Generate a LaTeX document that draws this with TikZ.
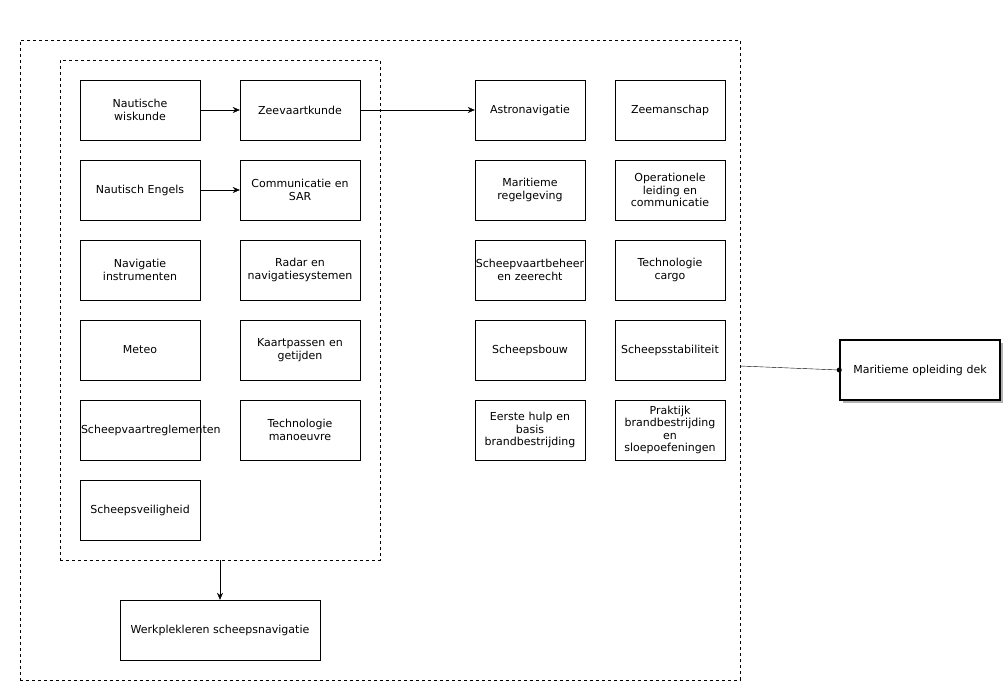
\documentclass[tikz,border=0pt]{standalone}
\usepackage{fontspec}
\setmainfont{DejaVu Sans}
\usetikzlibrary{arrows.meta}
\begin{document}
\begin{tikzpicture}[x=1pt,y=-1pt,
  box/.style={draw,minimum width=120pt,minimum height=60pt,align=center,inner sep=0pt,font=\fontsize{11}{12.5}\selectfont,text width=118pt},
  sbox/.style={box,minimum width=100pt,text width=110pt},
  arr/.style={-{Stealth[length=7pt,width=6pt]}},
  grp/.style={draw,dashed}]
\useasboundingbox (0,0) rectangle (1008,685);
\node[grp,minimum width=720pt,minimum height=640pt,inner sep=0pt] (outer) at (380,360) {};
\node[grp,minimum width=320pt,minimum height=500pt,inner sep=0pt] (inner) at (220,310) {};
\node[box] (a1) at (140,110) {Nautische\\wiskunde};
\node[box] (a2) at (140,190) {Nautisch Engels};
\node[box] (a3) at (140,270) {Navigatie\\instrumenten};
\node[box] (a4) at (140,350) {Meteo};
\node[box] (a5) at (140,430) {Scheepvaartreglementen};
\node[box] (a6) at (140,510) {Scheepsveiligheid};
\node[box] (b1) at (300,110) {Zeevaartkunde};
\node[box] (b2) at (300,190) {Communicatie en\\SAR};
\node[box] (b3) at (300,270) {Radar en\\navigatiesystemen};
\node[box] (b4) at (300,350) {Kaartpassen en\\getijden};
\node[box] (b5) at (300,430) {Technologie\\manoeuvre};
\node[sbox] (c1) at (530,110) {Astronavigatie};
\node[sbox] (c2) at (530,190) {Maritieme\\regelgeving};
\node[sbox] (c3) at (530,270) {Scheepvaartbeheer\\en zeerecht};
\node[sbox] (c4) at (530,350) {Scheepsbouw};
\node[sbox] (c5) at (530,430) {Eerste hulp en\\basis\\brandbestrijding};
\node[sbox] (d1) at (670,110) {Zeemanschap};
\node[sbox] (d2) at (670,190) {Operationele\\leiding en\\communicatie};
\node[sbox] (d3) at (670,270) {Technologie\\cargo};
\node[sbox] (d4) at (670,350) {Scheepsstabiliteit};
\node[sbox] (d5) at (670,430) {Praktijk\\brandbestrijding\\en\\sloepoefeningen};
\node[box,minimum width=200pt,text width=198pt] (w) at (220,630) {Werkplekleren scheepsnavigatie};
\fill[gray!60] (843,343) rectangle (1003,403);
\node[box,fill=white,line width=1.5pt,minimum width=160pt,text width=158pt] (m) at (920,370) {Maritieme opleiding dek};
\draw[arr] (a1) -- (b1);
\draw[arr] (a2) -- (b2);
\draw[arr] (b1) -- (c1);
\draw[arr] (inner.south -| w.north) -- (w.north);
\coordinate (oc) at (740,366);
\draw (oc) -- (m.west);
\fill (m.west) circle (2.5pt);
\end{tikzpicture}
\end{document}
